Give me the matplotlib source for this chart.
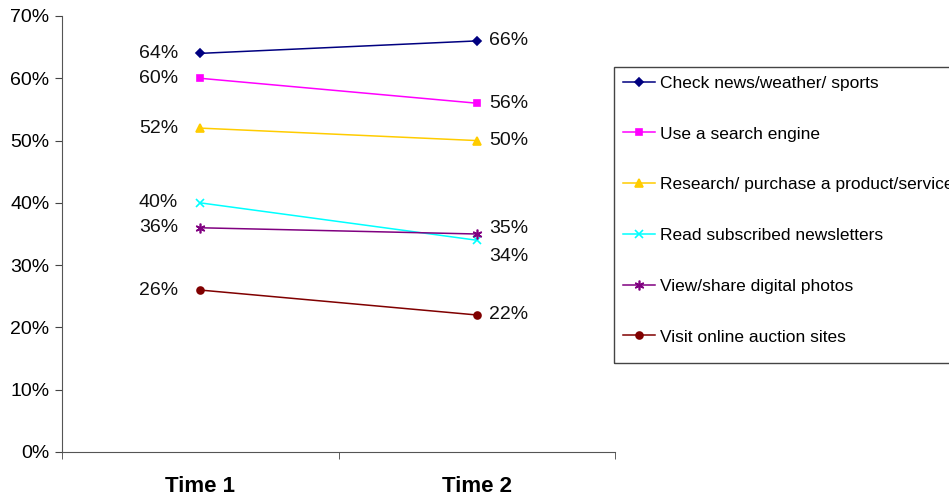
import matplotlib
matplotlib.use('Agg')
import matplotlib.pyplot as plt
from matplotlib.patches import Rectangle
from matplotlib.ticker import FuncFormatter, FixedLocator

times = ['Time 1', 'Time 2']
series = ['Check news/weather/ sports', 'Use a search engine',
          'Research/ purchase a product/service', 'Read subscribed newsletters',
          'View/share digital photos', 'Visit online auction sites']
news = [64, 66]
search = [60, 56]
research = [52, 50]
newsletters = [40, 34]
photos = [36, 35]
auction = [26, 22]
values = [news, search, research, newsletters, photos, auction]

colors = ['#000080', '#FF00FF', '#FFCC00', '#00FFFF', '#800080', '#800000']
markers = ['D', 's', '^', 'x', (6, 2, 0), 'o']
msizes = [4, 5, 6, 6, 7, 5]

plt.rcParams['font.family'] = ['Liberation Sans', 'DejaVu Sans']
fig = plt.figure(figsize=(9.49, 4.97), dpi=100)
ax = fig.add_axes([62/949, 1-452/497, (615-62)/949, (452-16)/497])

x = [0, 1]
for name, v, c, m, ms in zip(series, values, colors, markers, msizes):
    ax.plot(x, v, color=c, marker=m, ms=ms, lw=1.1, mew=1.2, label=name)

# data labels
for name, v in zip(series, values):
    ax.annotate(f'{v[0]}%', (0, v[0]), xytext=(-16, 0), textcoords='offset points',
                ha='right', va='center', fontsize=14, color='#111111')
    dy = 0
    if name == 'Read subscribed newsletters':
        dy = -12
    elif name == 'View/share digital photos':
        dy = 4
    ax.annotate(f'{v[1]}%', (1, v[1]), xytext=(9, dy), textcoords='offset points',
                ha='left', va='center', fontsize=14, color='#111111')

ax.set_xlim(-0.5, 1.5)
ax.set_ylim(0, 70)
ax.set_yticks(range(0, 71, 10))
ax.yaxis.set_major_formatter(FuncFormatter(lambda v, p: f'{int(v)}%'))
ax.set_xticks(x)
ax.set_xticklabels(times, fontsize=16, fontweight='bold')
ax.tick_params(axis='x', which='major', length=0, pad=17)
ax.xaxis.set_minor_locator(FixedLocator([-0.5, 0.5, 1.5]))
ax.tick_params(axis='x', which='minor', length=5, direction='out', color='#444444')
ax.tick_params(axis='y', length=5, direction='out', labelsize=14, color='#444444', pad=4)
for s in ['top', 'right']:
    ax.spines[s].set_visible(False)
for s in ['left', 'bottom']:
    ax.spines[s].set_color('#555555')

# legend box (runs off the right edge like the original)
fig.patches.append(Rectangle((614/949, 1-363/497), 400/949, (363-67)/497,
                             transform=fig.transFigure, fill=False,
                             edgecolor='#444444', lw=1.0))
leg = fig.legend(loc='upper left', bbox_to_anchor=(614/949, 1-67/497),
                 fontsize=12.5, frameon=False, labelspacing=2.05,
                 handlelength=1.85, handletextpad=0.3, borderpad=0.5,
                 borderaxespad=0)

fig.savefig('out.png', dpi=100)
